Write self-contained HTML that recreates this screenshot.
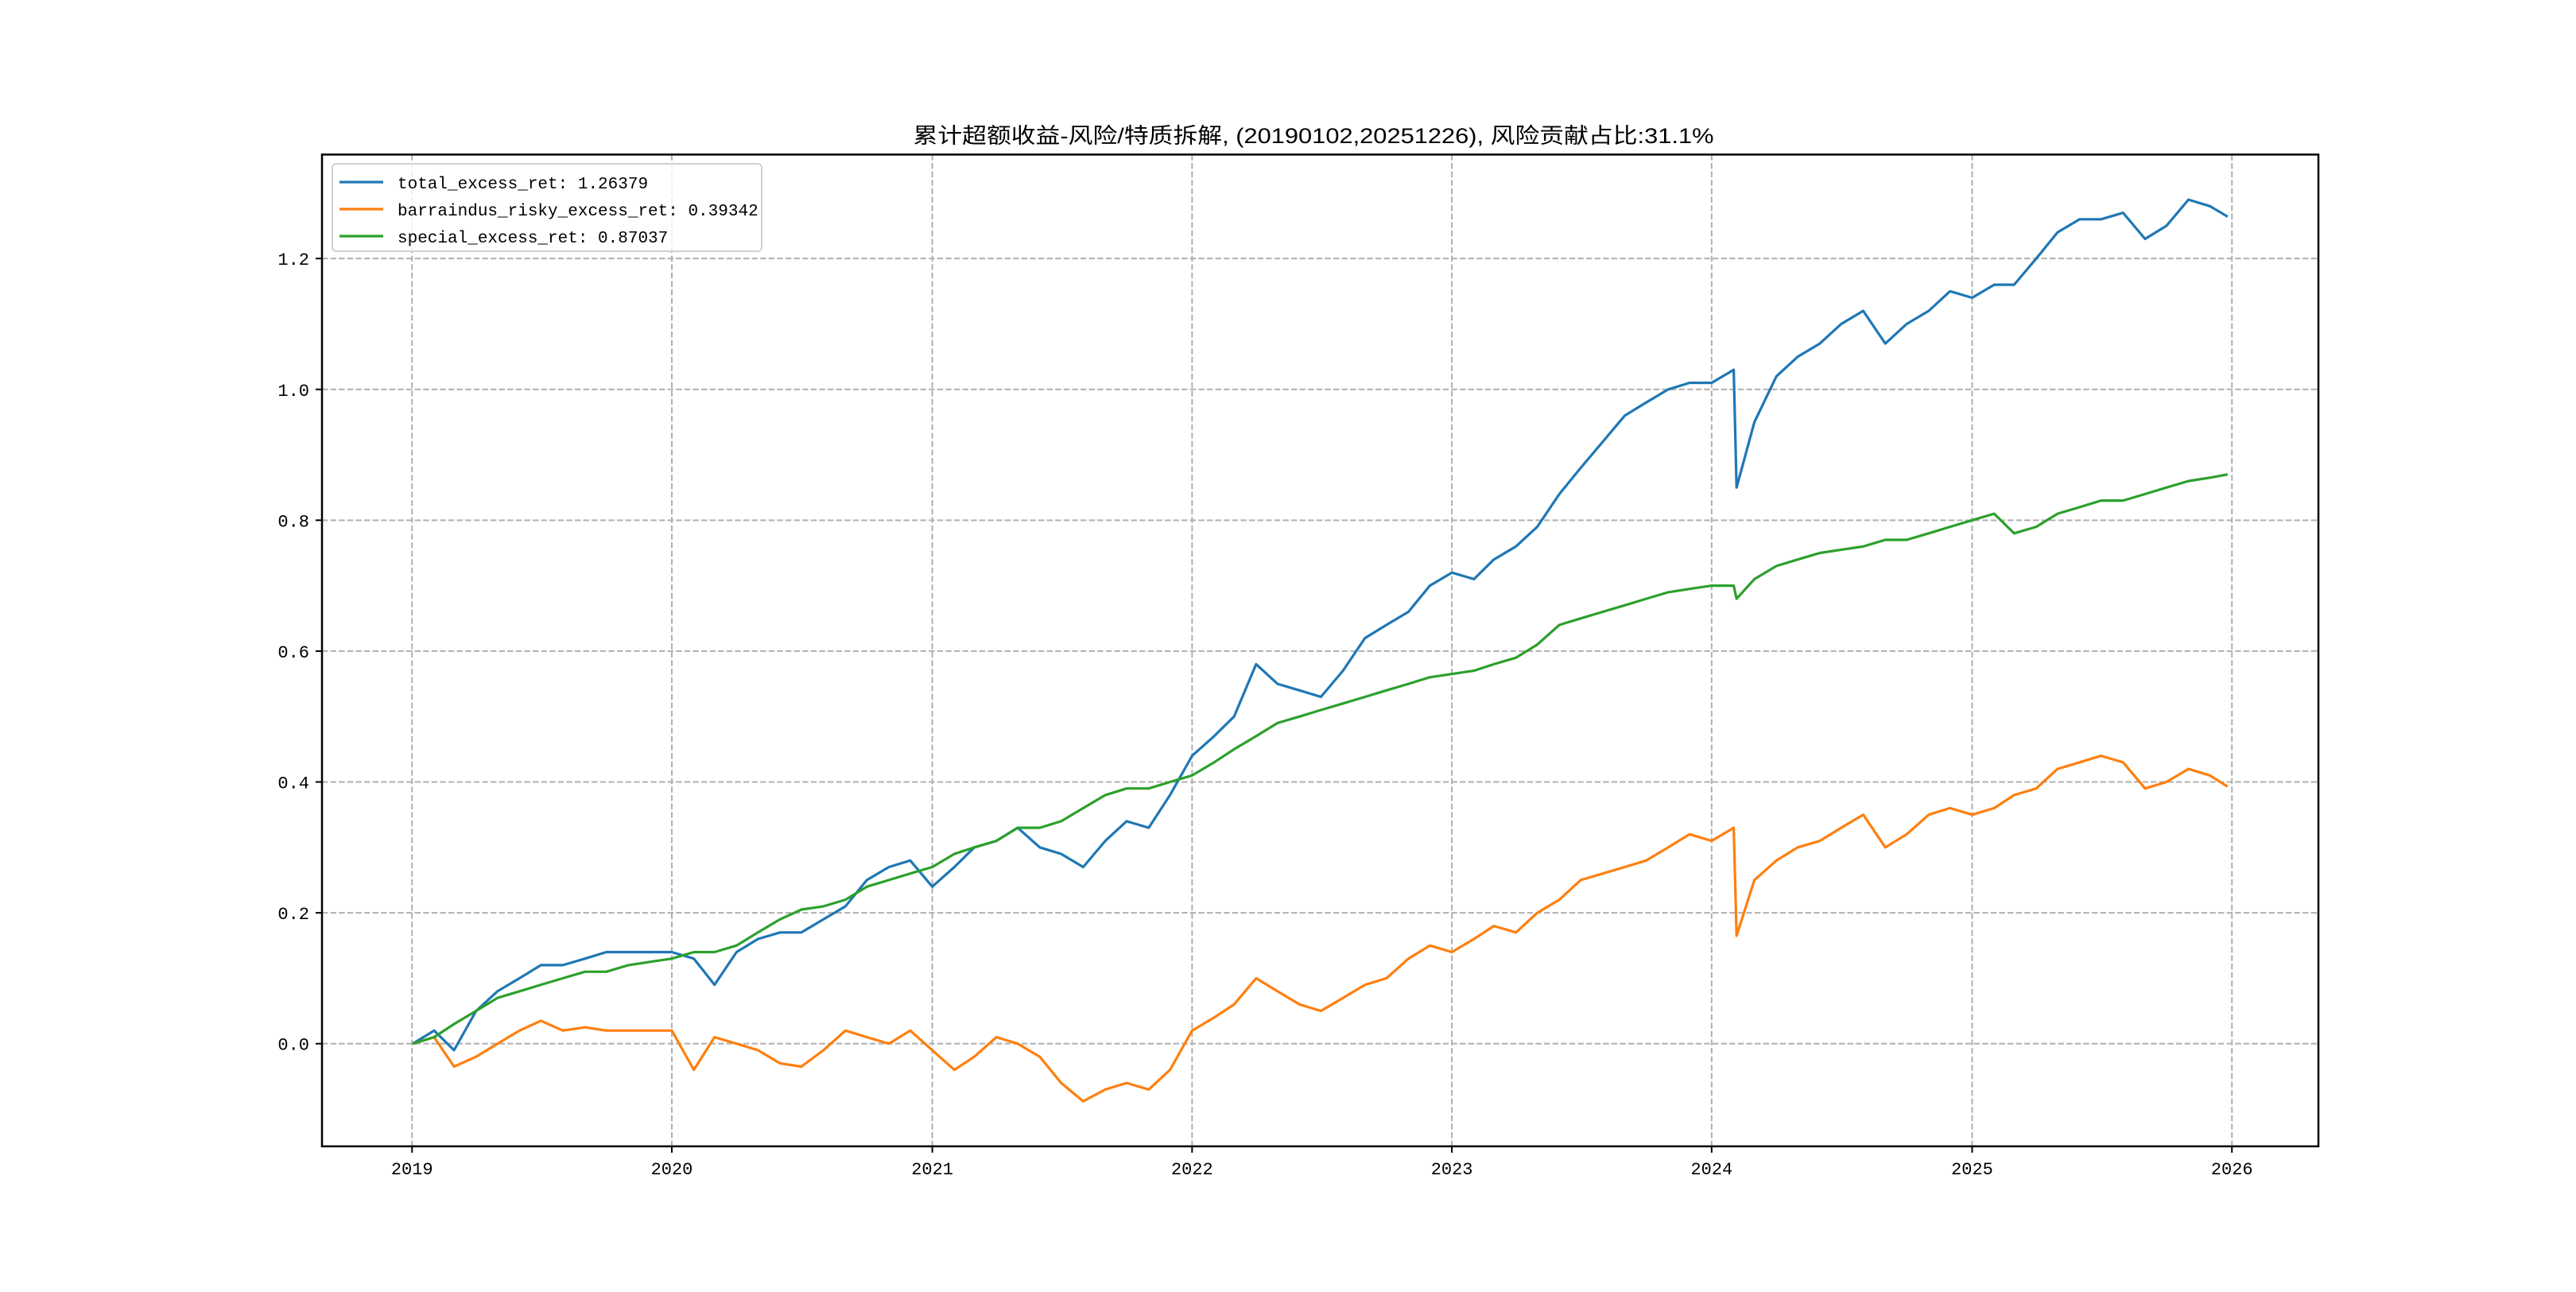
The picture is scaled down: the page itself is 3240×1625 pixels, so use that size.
<!DOCTYPE html>
<html><head><meta charset="utf-8"><style>
html,body{margin:0;padding:0;background:#fff;}
svg text{font-family:"Liberation Sans","Noto Sans CJK SC",sans-serif;}
svg text.mono{font-family:"Liberation Mono","Noto Sans CJK SC",monospace;}
</style></head><body>
<svg id="chart" xmlns="http://www.w3.org/2000/svg" width="3240" height="1620" viewBox="0 0 3240 1620">
<rect x="0" y="0" width="3240" height="1620" fill="#fff"/>
<text x="1652" y="180" font-size="27" text-anchor="middle" textLength="1007" lengthAdjust="spacingAndGlyphs">累计超额收益-风险/特质拆解, (20190102,20251226), 风险贡献占比:31.1%</text>
<g id="grid"></g>
<g id="series"></g>
<rect x="405" y="194.4" width="2511" height="1247.4" fill="none" stroke="#000" stroke-width="2.5"/>
<g id="axes"></g>
<g id="legend"></g>
</svg>
<script>
const dates = [
"2019-01-02","2019-02-01","2019-03-01","2019-04-01","2019-05-01","2019-06-01","2019-07-01","2019-08-01","2019-09-01","2019-10-01","2019-11-01","2019-12-01",
"2020-01-01","2020-02-01","2020-03-01","2020-04-01","2020-05-01","2020-06-01","2020-07-01","2020-08-01","2020-09-01","2020-10-01","2020-11-01","2020-12-01",
"2021-01-01","2021-02-01","2021-03-01","2021-04-01","2021-05-01","2021-06-01","2021-07-01","2021-08-01","2021-09-01","2021-10-01","2021-11-01","2021-12-01",
"2022-01-01","2022-02-01","2022-03-01","2022-04-01","2022-05-01","2022-06-01","2022-07-01","2022-08-01","2022-09-01","2022-10-01","2022-11-01","2022-12-01",
"2023-01-01","2023-02-01","2023-03-01","2023-04-01","2023-05-01","2023-06-01","2023-07-01","2023-08-01","2023-09-01","2023-10-01","2023-11-01","2023-12-01",
"2024-01-01","2024-02-01","2024-02-05","2024-03-01","2024-04-01","2024-05-01","2024-06-01","2024-07-01","2024-08-01","2024-09-01","2024-10-01","2024-11-01","2024-12-01",
"2025-01-01","2025-02-01","2025-03-01","2025-04-01","2025-05-01","2025-06-01","2025-07-01","2025-08-01","2025-09-01","2025-10-01","2025-11-01","2025-12-01","2025-12-26"];
const totalRet = [
0,0.02,-0.01,0.05,0.08,0.10,0.12,0.12,0.13,0.14,0.14,0.14,
0.14,0.13,0.09,0.14,0.16,0.17,0.17,0.19,0.21,0.25,0.27,0.28,
0.24,0.27,0.30,0.31,0.33,0.30,0.29,0.27,0.31,0.34,0.33,0.38,
0.44,0.47,0.50,0.58,0.55,0.54,0.53,0.57,0.62,0.64,0.66,0.70,
0.72,0.71,0.74,0.76,0.79,0.84,0.88,0.92,0.96,0.98,1.00,1.01,
1.01,1.03,0.85,0.95,1.02,1.05,1.07,1.10,1.12,1.07,1.10,1.12,1.15,
1.14,1.16,1.16,1.20,1.24,1.26,1.26,1.27,1.23,1.25,1.29,1.28,1.264];
const riskRet = [
0,0.01,-0.035,-0.02,0.0,0.02,0.035,0.02,0.025,0.02,0.02,0.02,
0.02,-0.04,0.01,0.0,-0.01,-0.03,-0.035,-0.01,0.02,0.01,0.0,0.02,
-0.01,-0.04,-0.02,0.01,0.0,-0.02,-0.06,-0.088,-0.07,-0.06,-0.07,-0.04,
0.02,0.04,0.06,0.10,0.08,0.06,0.05,0.07,0.09,0.10,0.13,0.15,
0.14,0.16,0.18,0.17,0.20,0.22,0.25,0.26,0.27,0.28,0.30,0.32,
0.31,0.33,0.165,0.25,0.28,0.30,0.31,0.33,0.35,0.30,0.32,0.35,0.36,
0.35,0.36,0.38,0.39,0.42,0.43,0.44,0.43,0.39,0.40,0.42,0.41,0.393];
const specialRet = [
0,0.01,0.03,0.05,0.07,0.08,0.09,0.10,0.11,0.11,0.12,0.125,
0.13,0.14,0.14,0.15,0.17,0.19,0.205,0.21,0.22,0.24,0.25,0.26,
0.27,0.29,0.30,0.31,0.33,0.33,0.34,0.36,0.38,0.39,0.39,0.40,
0.41,0.43,0.45,0.47,0.49,0.50,0.51,0.52,0.53,0.54,0.55,0.56,
0.565,0.57,0.58,0.59,0.61,0.64,0.65,0.66,0.67,0.68,0.69,0.695,
0.70,0.70,0.68,0.71,0.73,0.74,0.75,0.755,0.76,0.77,0.77,0.78,0.79,
0.80,0.81,0.78,0.79,0.81,0.82,0.83,0.83,0.84,0.85,0.86,0.865,0.870];
const yTicks = [0.0,0.2,0.4,0.6,0.8,1.0,1.2];
const xTickYears = [2019,2020,2021,2022,2023,2024,2025,2026];
const legendLabels = ["total_excess_ret: 1.26379","barraindus_risky_excess_ret: 0.39342","special_excess_ret: 0.87037"];

const NS="http://www.w3.org/2000/svg";
const L=405,R=2916,T=194.4,B=1441.8;
function t(d){const [y,m,dd]=d.split("-").map(Number);return Date.UTC(y,m-1,dd);}
const t0=t(dates[0]),t1=t(dates[dates.length-1]),span=t1-t0;
const xmin=t0-0.05*span,xmax=t1+0.05*span;
const allV=totalRet.concat(riskRet,specialRet);
const vmin=Math.min(...allV),vmax=Math.max(...allV),vr=vmax-vmin;
const ymin=vmin-0.05*vr,ymax=vmax+0.05*vr;
function X(ms){return L+(ms-xmin)/(xmax-xmin)*(R-L);}
function Y(v){return B-(v-ymin)/(ymax-ymin)*(B-T);}
function mk(tag,attrs,parent){const e=document.createElementNS(NS,tag);for(const k in attrs)e.setAttribute(k,attrs[k]);parent.appendChild(e);return e;}
const grid=document.getElementById("grid"),axes=document.getElementById("axes");
xTickYears.forEach(yr=>{
  const x=X(Date.UTC(yr,0,1));
  const g=mk("line",{x1:x,x2:x,y1:T,y2:B,stroke:"#b0b0b0","stroke-width":2,"stroke-dasharray":"7.4,3.2"},grid);
  
  
  const tk=mk("line",{x1:x,x2:x,y1:B,y2:B+8,stroke:"#000","stroke-width":2},axes);
  
  
  const tx=mk("text",{x:x,y:B+35,"font-size":22,"text-anchor":"middle","class":"mono"},axes);
  tx.textContent=yr;
  
  
});
yTicks.forEach(v=>{
  const y=Y(v);
  const g=mk("line",{x1:L,x2:R,y1:y,y2:y,stroke:"#b0b0b0","stroke-width":2,"stroke-dasharray":"7.4,3.2"},grid);
  
  
  const tk=mk("line",{x1:L-8,x2:L,y1:y,y2:y,stroke:"#000","stroke-width":2},axes);
  
  
  const tx=mk("text",{x:L-16,y:y+8,"font-size":22,"text-anchor":"end","class":"mono"},axes);
  tx.textContent=v.toFixed(1);
  
  
});
const seriesG=document.getElementById("series");
const colors=["#1f77b4","#ff7f0e","#2ca02c"];
const names=["total-excess-line","risky-excess-line","special-excess-line"];
[totalRet,riskRet,specialRet].forEach((vals,i)=>{
  const d=vals.map((v,j)=>(j?"L":"M")+X(t(dates[j])).toFixed(1)+","+Y(v).toFixed(1)).join(" ");
  const p=mk("path",{d:d,fill:"none",stroke:colors[i],"stroke-width":3.2,"stroke-linejoin":"round"},seriesG);
  
  
});
const lg=document.getElementById("legend");
const box=mk("rect",{x:418,y:206,width:540,height:110,rx:5,fill:"#fff","fill-opacity":0.8,stroke:"#d0d0d0","stroke-width":2},lg);


legendLabels.forEach((lab,i)=>{
  const y=229+i*34;
  const ln=mk("line",{x1:427,x2:482,y1:y,y2:y,stroke:colors[i],"stroke-width":3.2},lg);
  
  
  const tx=mk("text",{x:500,y:y+8,"font-size":21,"class":"mono"},lg);
  tx.textContent=lab;
  
  
});
</script>
</body></html>
